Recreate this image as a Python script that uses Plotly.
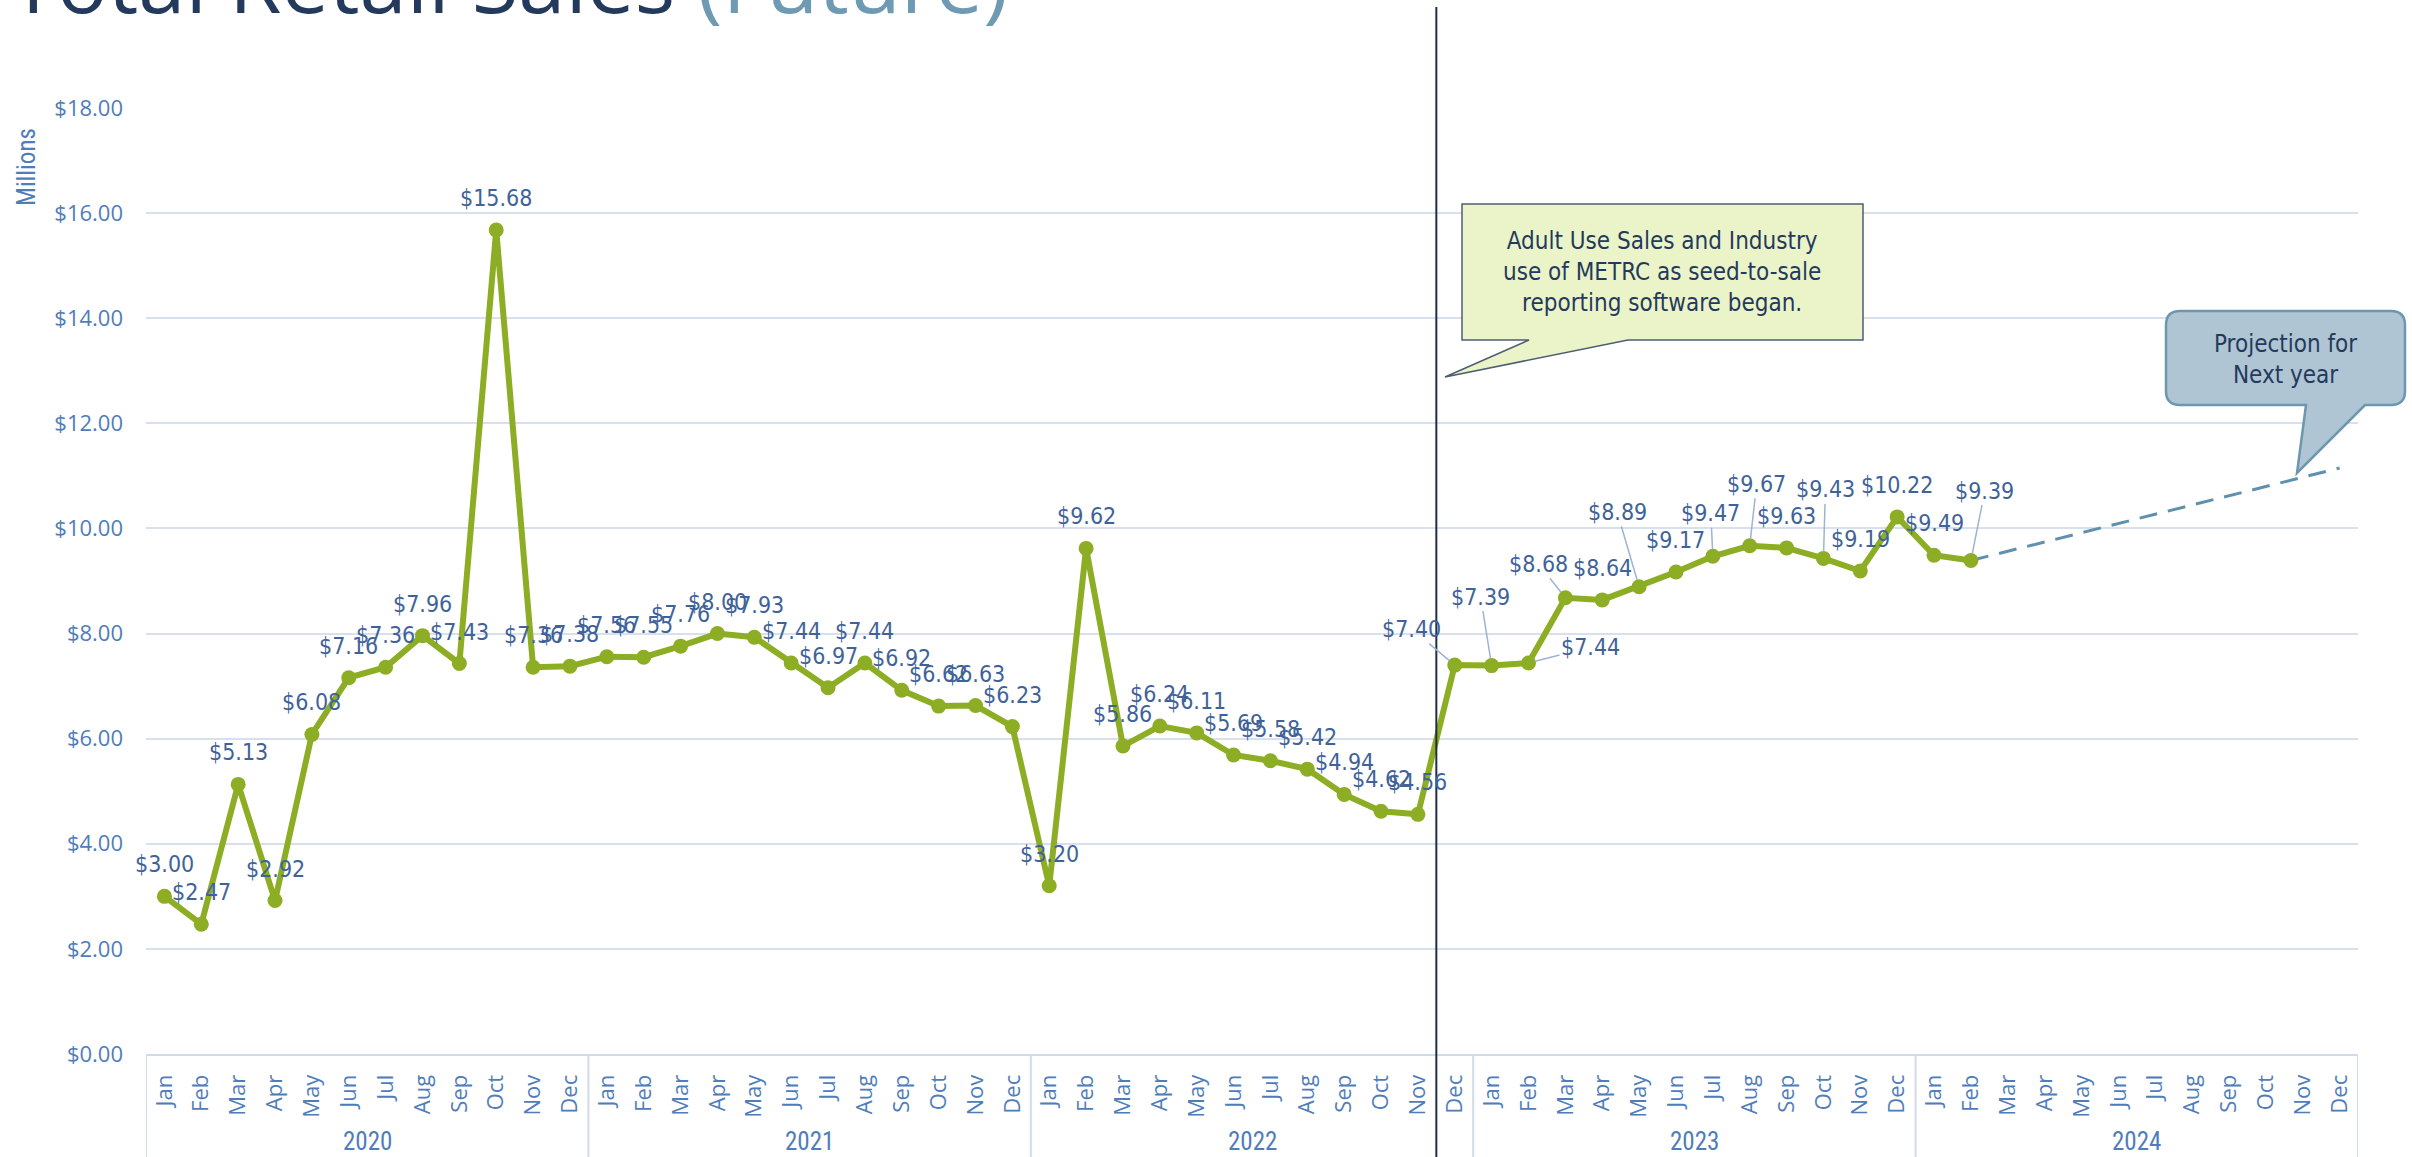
import plotly.graph_objects as go

# ---------------- data ----------------
years = ["2020", "2021", "2022", "2023", "2024"]
months = ["Jan", "Feb", "Mar", "Apr", "May", "Jun", "Jul", "Aug", "Sep", "Oct", "Nov", "Dec"]

sales_2020 = [3.00, 2.47, 5.13, 2.92, 6.08, 7.16, 7.36, 7.96, 7.43, 15.68, 7.36, 7.38]
sales_2021 = [7.56, 7.55, 7.76, 8.00, 7.93, 7.44, 6.97, 7.44, 6.92, 6.62, 6.63, 6.23]
sales_2022 = [3.20, 9.62, 5.86, 6.24, 6.11, 5.69, 5.58, 5.42, 4.94, 4.62, 4.56, 7.40]
sales_2023 = [7.39, 7.44, 8.68, 8.64, 8.89, 9.17, 9.47, 9.67, 9.63, 9.43, 9.19, 10.22]
sales_2024 = [9.49, 9.39]

projection_months = ["Feb 2024", "Dec 2024"]
projection_values = [9.39, 11.15]

y_ticks = [0, 2, 4, 6, 8, 10, 12, 14, 16, 18]

callout_text = "Adult Use Sales and Industry<br>use of METRC as seed-to-sale<br>reporting software began."
projection_text = "Projection for<br>Next year"

# ---------------- derived ----------------
categories = [f"{m} {y}" for y in years for m in months]
sales = sales_2020 + sales_2021 + sales_2022 + sales_2023 + sales_2024
sales_x = categories[:len(sales)]

# label leader-line offsets (pixels) for moved labels
label_offsets = {
    "Dec 2022": (-43, -36),
    "Jan 2023": (-11, -69),
    "Feb 2023": (62, -16),
    "Mar 2023": (-27, -34),
    "May 2023": (-22, -75),
    "Jul 2023": (-2, -43),
    "Aug 2023": (7, -62),
    "Oct 2023": (2, -69),
    "Feb 2024": (14, -70),
}

# ---------------- layout geometry ----------------
W, H = 2412, 1157
ML, MR, MT, MB = 146, 54, 108, 103
PW, PH = W - ML - MR, H - MT - MB


def px_x(X):
    return (X - ML) / PW


def px_y(Y):
    return (H - MB - Y) / PH


LINE_GREEN = "#8DAD25"
LABEL_BLUE = "#3F6398"
TICK_BLUE = "#4F7DBA"
GRID = "#D7E0EC"
NAVY = "#243A5C"
LABEL_FONT = "DejaVu Sans Condensed, Open Sans, sans-serif"
NARROW_FONT = "Liberation Sans Narrow, Roboto Condensed, Roboto, sans-serif"

fig = go.Figure()

fig.add_trace(go.Scatter(
    x=projection_months, y=projection_values, mode="lines",
    line=dict(color="#5F90AD", width=3, dash="18px,11px"),
    hoverinfo="skip", showlegend=False,
))

fig.add_trace(go.Scatter(
    x=sales_x, y=sales, mode="lines+markers",
    line=dict(color=LINE_GREEN, width=6),
    marker=dict(color=LINE_GREEN, size=15),
    showlegend=False,
))

annotations = []
for cat, val in zip(sales_x, sales):
    txt = f"${val:.2f}"
    if cat in label_offsets:
        ax, ay = label_offsets[cat]
        annotations.append(dict(
            x=cat, y=val, xref="x", yref="y", text=txt, showarrow=True,
            arrowhead=0, arrowwidth=1.5, arrowcolor="#9DB4D2", ax=ax, ay=ay,
            standoff=7, font=dict(family=LABEL_FONT, size=23, color=LABEL_BLUE),
        ))
    else:
        annotations.append(dict(
            x=cat, y=val, xref="x", yref="y", text=txt, showarrow=False,
            yshift=32, xanchor="center", yanchor="middle",
            font=dict(family=LABEL_FONT, size=23, color=LABEL_BLUE),
        ))

# year labels
for i, yr in enumerate(years):
    annotations.append(dict(
        x=i * 12 + 5.5, y=px_y(1141), xref="x", yref="paper", text=yr,
        showarrow=False, xanchor="center", yanchor="middle",
        font=dict(family=NARROW_FONT, size=25, color=TICK_BLUE),
    ))

# title
annotations.append(dict(
    x=px_x(8), y=px_y(40), xref="paper", yref="paper", xanchor="left", yanchor="bottom",
    text="Total Retail Sales <span style='color:#6E9AB4'>(Future)</span>",
    showarrow=False, font=dict(family="Open Sans, sans-serif", size=85, color=NAVY),
))

# Millions
annotations.append(dict(
    x=px_x(26), y=px_y(167), xref="paper", yref="paper", text="Millions", textangle=-90,
    showarrow=False, xanchor="center", yanchor="middle",
    font=dict(family=NARROW_FONT, size=25, color=TICK_BLUE),
))

# callout texts
annotations.append(dict(
    x=px_x(1662), y=px_y(272), xref="paper", yref="paper", text=callout_text,
    showarrow=False, align="center", xanchor="center", yanchor="middle",
    font=dict(family=LABEL_FONT, size=24, color=NAVY),
))
annotations.append(dict(
    x=px_x(2285), y=px_y(359), xref="paper", yref="paper", text=projection_text,
    showarrow=False, align="center", xanchor="center", yanchor="middle",
    font=dict(family=LABEL_FONT, size=24, color=NAVY),
))

shapes = []
# year dividers in axis label area
for b in range(len(years) + 1):
    shapes.append(dict(
        type="line", xref="x", yref="paper", x0=b * 12 - 0.5, x1=b * 12 - 0.5,
        y0=0, y1=px_y(H + 5), line=dict(color="#D0DAE8", width=2), layer="above",
    ))

# vertical marker line (Adult Use start)
shapes.append(dict(
    type="line", xref="x", yref="paper", x0=34.5, x1=34.5,
    y0=px_y(H + 5), y1=px_y(7), line=dict(color="#1E2D48", width=2), layer="above",
))


def pth(points):
    return "M " + " L ".join(f"{px_x(x):.5f},{px_y(y):.5f}" for x, y in points) + " Z"


# callout 1 (speech bubble)
shapes.append(dict(
    type="path", xref="paper", yref="paper",
    path=pth([(1462, 204), (1863, 204), (1863, 340), (1628, 340), (1445, 377), (1529, 340), (1462, 340)]),
    fillcolor="#EBF4C9", line=dict(color="#4D5E74", width=1.5), layer="above",
))


# callout 2 (rounded bubble)
def rounded_bubble(x0, y0, x1, y1, r, t_right, tip, t_left):
    P = lambda x, y: f"{px_x(x):.5f},{px_y(y):.5f}"
    return (
        f"M {P(x0 + r, y0)} L {P(x1 - r, y0)} Q {P(x1, y0)} {P(x1, y0 + r)} "
        f"L {P(x1, y1 - r)} Q {P(x1, y1)} {P(x1 - r, y1)} "
        f"L {P(t_right, y1)} L {P(*tip)} L {P(t_left, y1)} "
        f"L {P(x0 + r, y1)} Q {P(x0, y1)} {P(x0, y1 - r)} "
        f"L {P(x0, y0 + r)} Q {P(x0, y0)} {P(x0 + r, y0)} Z"
    )


shapes.append(dict(
    type="path", xref="paper", yref="paper",
    path=rounded_bubble(2166, 311, 2405, 405, 14, 2365, (2297, 473), 2306),
    fillcolor="#AFC5D3", line=dict(color="#6D96AF", width=2.5), layer="above",
))

fig.update_layout(
    width=W, height=H,
    margin=dict(l=ML, r=MR, t=MT, b=MB),
    paper_bgcolor="white", plot_bgcolor="white",
    showlegend=False,
    annotations=annotations,
    shapes=shapes,
    xaxis=dict(
        type="category", categoryorder="array", categoryarray=categories,
        range=[-0.5, len(categories) - 0.5],
        tickmode="array", tickvals=categories, ticktext=[m for y in years for m in months],
        tickangle=-90, ticks="", ticklabelstandoff=10,
        tickfont=dict(family="Open Sans, sans-serif", size=22, color=TICK_BLUE),
        showgrid=False, showline=True, linecolor="#D0DAE8", linewidth=2,
        zeroline=False, fixedrange=True,
    ),
    yaxis=dict(
        range=[0, 18], tickmode="array", tickvals=y_ticks, tickformat="$.2f",
        tickfont=dict(family="Open Sans, sans-serif", size=22, color=TICK_BLUE),
        showgrid=True, gridcolor=GRID, gridwidth=2, zeroline=False, showline=False,
        ticks="", ticklabelstandoff=22,
    ),
)

fig.write_html(
    "out.html",
    config={"displayModeBar": False},
    post_script="document.body.style.margin='0px';document.documentElement.style.overflow='hidden';",
)
